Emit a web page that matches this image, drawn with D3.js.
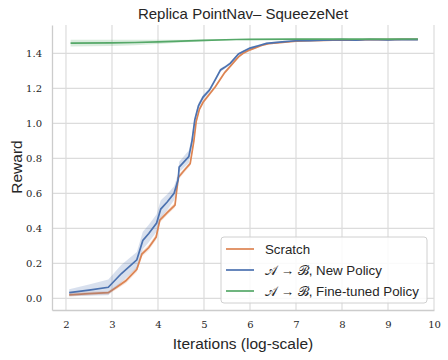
<!DOCTYPE html>
<html>
<head>
<meta charset="utf-8">
<script src="https://cdn.jsdelivr.net/npm/d3@7"></script>
<style>
  body { margin: 0; background: #fff; }
  svg text { fill: #262626; }
</style>
</head>
<body>
<div id="chart"></div>
<script>
// Size and margins
const WIDTH = 448;
const HEIGHT = 360;
const M = { left: 52, right: 14, top: 25, bottom: 50 };

// Scratch run (orange)
const scratchIter = [2.07, 2.5, 2.92, 3.1, 3.3, 3.54, 3.65, 3.8, 3.96, 4.04, 4.2, 4.37, 4.44, 4.6, 4.7, 4.78, 4.83, 4.9, 4.98, 5.1, 5.25, 5.35, 5.45, 5.55, 5.65, 5.75, 5.85, 6.0, 6.1, 6.25, 6.4, 6.7, 7.0, 7.3, 7.6, 8.0, 8.3, 8.6, 9.0, 9.3, 9.65];
const scratchReward = [0.02, 0.027, 0.032, 0.063, 0.1, 0.166, 0.253, 0.29, 0.35, 0.447, 0.49, 0.533, 0.69, 0.74, 0.77, 0.9, 1.01, 1.08, 1.12, 1.16, 1.21, 1.25, 1.29, 1.32, 1.35, 1.38, 1.4, 1.42, 1.43, 1.445, 1.455, 1.462, 1.47, 1.472, 1.474, 1.477, 1.476, 1.479, 1.478, 1.48, 1.48];
const scratchBand = [0.01, 0.01, 0.01, 0.012, 0.014, 0.016, 0.016, 0.016, 0.016, 0.016, 0.014, 0.014, 0.014, 0.012, 0.012, 0.012, 0.012, 0.01, 0.01, 0.01, 0.008, 0.008, 0.008, 0.008, 0.006, 0.006, 0.006, 0.005, 0.005, 0.004, 0.004, 0.004, 0.003, 0.003, 0.003, 0.003, 0.003, 0.003, 0.003, 0.003, 0.003];

// A -> B, new policy (blue)
const newIter = [2.07, 2.5, 2.92, 3.2, 3.54, 3.67, 3.8, 3.97, 4.06, 4.2, 4.35, 4.44, 4.46, 4.67, 4.74, 4.8, 4.88, 4.98, 5.12, 5.24, 5.36, 5.45, 5.57, 5.75, 5.85, 6.0, 6.2, 6.36, 6.7, 7.0, 7.3, 7.6, 8.0, 8.3, 8.6, 9.0, 9.3, 9.65];
const newReward = [0.032, 0.047, 0.063, 0.14, 0.22, 0.33, 0.37, 0.43, 0.51, 0.55, 0.6, 0.68, 0.75, 0.81, 0.9, 1.02, 1.1, 1.15, 1.19, 1.247, 1.305, 1.32, 1.343, 1.396, 1.41, 1.43, 1.445, 1.457, 1.466, 1.472, 1.473, 1.476, 1.478, 1.476, 1.479, 1.477, 1.479, 1.478];
const newBand = [0.02, 0.032, 0.045, 0.05, 0.045, 0.05, 0.05, 0.05, 0.05, 0.045, 0.04, 0.035, 0.03, 0.035, 0.03, 0.02, 0.016, 0.014, 0.012, 0.01, 0.01, 0.008, 0.008, 0.006, 0.006, 0.006, 0.005, 0.005, 0.004, 0.004, 0.004, 0.004, 0.003, 0.003, 0.003, 0.003, 0.003, 0.003];

// A -> B, fine-tuned policy (green)
const tunedIter = [2.1, 3.0, 3.5, 4.0, 4.5, 5.0, 5.7, 6.0, 7.0, 8.0, 9.0, 9.65];
const tunedReward = [1.458, 1.46, 1.462, 1.466, 1.47, 1.474, 1.479, 1.48, 1.481, 1.481, 1.481, 1.482];
const tunedBand = [0.019, 0.018, 0.016, 0.012, 0.008, 0.005, 0.003, 0.003, 0.002, 0.002, 0.002, 0.002];

// Ticks and labels
const xTicks = [2, 3, 4, 5, 6, 7, 8, 9, 10];
const yTicks = [0.0, 0.2, 0.4, 0.6, 0.8, 1.0, 1.2, 1.4];
const seriesNames = ["Scratch", "\u{1D49C} \u2192 \u212C, New Policy", "\u{1D49C} \u2192 \u212C, Fine-tuned Policy"];
const COLORS = ["#dd8452", "#4c72b0", "#55a868"];

const svg = d3.select("#chart").append("svg")
  .attr("width", WIDTH)
  .attr("height", HEIGHT);

const x = d3.scaleLinear().domain([1.696, 10]).range([M.left, WIDTH - M.right]);
const y = d3.scaleLinear().domain([-0.067, 1.562]).range([HEIGHT - M.bottom, M.top]);

// Grid
svg.append("g").selectAll("line").data(xTicks).join("line")
  .attr("x1", (d) => x(d)).attr("x2", (d) => x(d))
  .attr("y1", M.top).attr("y2", HEIGHT - M.bottom)
  .attr("stroke", "#dcdcdc").attr("stroke-width", 1.2);
svg.append("g").selectAll("line").data(yTicks).join("line")
  .attr("y1", (d) => y(d)).attr("y2", (d) => y(d))
  .attr("x1", M.left).attr("x2", WIDTH - M.right)
  .attr("stroke", "#dcdcdc").attr("stroke-width", 1.2);

// Axes
const xAxis = svg.append("g")
  .attr("transform", `translate(0,${HEIGHT - M.bottom})`)
  .call(d3.axisBottom(x).tickValues(xTicks).tickSize(0).tickPadding(11).tickFormat(d3.format("d")));
const yAxis = svg.append("g")
  .attr("transform", `translate(${M.left},0)`)
  .call(d3.axisLeft(y).tickValues(yTicks).tickSize(0).tickPadding(10).tickFormat(d3.format(".1f")));
[xAxis, yAxis].forEach((g) => {
  g.select(".domain").attr("stroke", "#cccccc").attr("stroke-width", 1.3);
  g.selectAll("text").style("font-family", "'DejaVu Serif', serif").style("font-size", "10px").attr("fill", "#404040");
});

// Series
const series = [
  { it: scratchIter, r: scratchReward, b: scratchBand },
  { it: newIter, r: newReward, b: newBand },
  { it: tunedIter, r: tunedReward, b: tunedBand },
];

series.forEach((s, k) => {
  const pts = s.it.map((v, i) => ({ x: v, y: s.r[i], b: s.b[i] }));
  svg.append("path").datum(pts)
    .attr("d", d3.area().x((d) => x(d.x)).y0((d) => y(d.y - d.b)).y1((d) => y(d.y + d.b)))
    .attr("fill", COLORS[k]).attr("fill-opacity", 0.22);
  svg.append("path").datum(pts)
    .attr("d", d3.line().x((d) => x(d.x)).y((d) => y(d.y)))
    .attr("fill", "none").attr("stroke", COLORS[k]).attr("stroke-width", 1.7);
});

// Title and labels
svg.append("text")
  .attr("x", (M.left + WIDTH - M.right) / 2).attr("y", 19)
  .attr("text-anchor", "middle")
  .style("font-family", "'Liberation Sans', sans-serif").style("font-size", "15px")
  .text("Replica PointNav\u2013 SqueezeNet");

svg.append("text")
  .attr("x", (M.left + WIDTH - M.right) / 2).attr("y", 349)
  .attr("text-anchor", "middle")
  .style("font-family", "'Liberation Sans', sans-serif").style("font-size", "15.5px")
  .text("Iterations (log-scale)");

svg.append("text")
  .attr("transform", "rotate(-90)")
  .attr("x", -167).attr("y", 22)
  .attr("text-anchor", "middle")
  .style("font-family", "'Liberation Sans', sans-serif").style("font-size", "15.5px")
  .text("Reward");

// Legend
const legend = svg.append("g").attr("transform", "translate(221,237)");
legend.append("rect")
  .attr("width", 206).attr("height", 66).attr("rx", 3)
  .attr("fill", "#ffffff").attr("fill-opacity", 0.85)
  .attr("stroke", "#d0d0d0");
seriesNames.forEach((name, i) => {
  const row = legend.append("g").attr("transform", `translate(0,${12 + i * 21})`);
  row.append("line").attr("x1", 5).attr("x2", 33)
    .attr("stroke", COLORS[i]).attr("stroke-width", 1.7);
  row.append("text").attr("x", 44).attr("y", 5)
    .style("font-family", "'Liberation Sans', sans-serif").style("font-size", "13.3px")
    .text(name);
});
</script>
</body>
</html>
